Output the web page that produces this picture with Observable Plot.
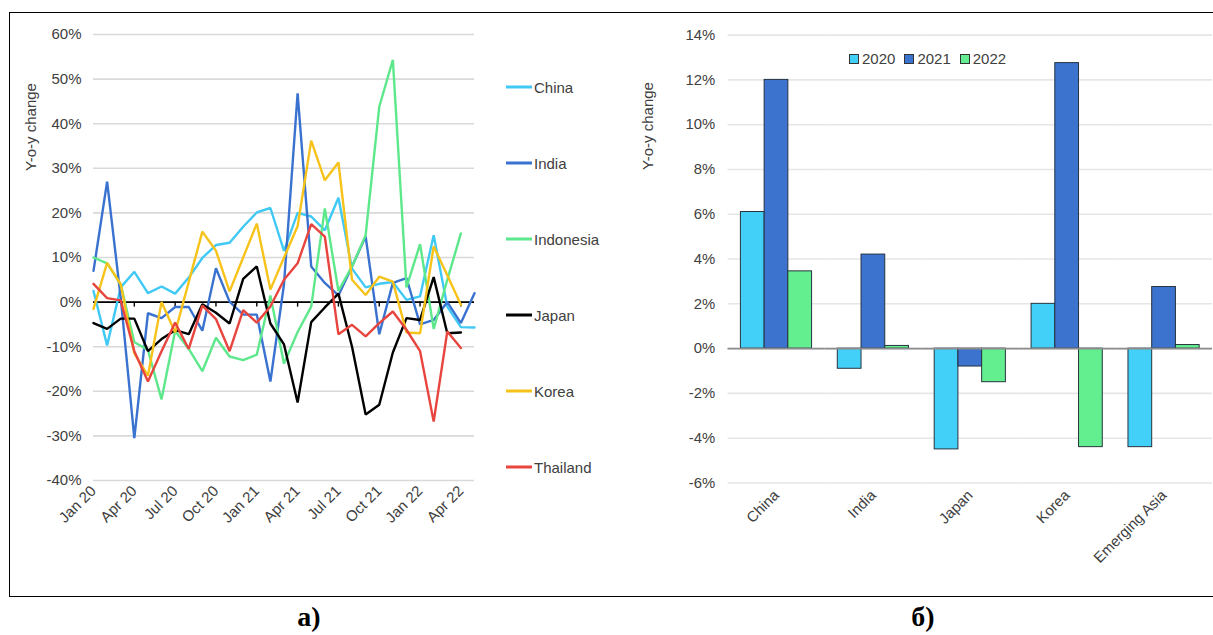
<!DOCTYPE html>
<html><head><meta charset="utf-8">
<script src="https://cdn.jsdelivr.net/npm/d3@7"></script>
<script src="https://cdn.jsdelivr.net/npm/@observablehq/plot@0.6"></script>
<style>
html,body{margin:0;padding:0;background:#fff;overflow:hidden;}
#root{position:relative;width:1213px;height:635px;overflow:hidden;font-family:"Liberation Sans",Arial,sans-serif;color:#404040;background:#fff;}
.frame{position:absolute;left:9px;top:12px;width:1230px;height:585px;border:1.5px solid #000;box-sizing:border-box;}
.ytitle{position:absolute;font-size:15px;white-space:nowrap;transform:translate(-50%,-50%) rotate(-90deg);}
.panel{position:absolute;top:601px;font-family:"Liberation Serif","Times New Roman",serif;font-weight:bold;font-size:28px;color:#000;transform:translateX(-50%);}
.leg{position:absolute;font-size:15px;white-space:nowrap;transform:translateY(-50%);display:flex;align-items:center;}
.leg i{display:inline-block;width:26px;height:3px;margin-right:2px;}
.bleg{position:absolute;top:50px;font-size:15px;display:flex;align-items:center;white-space:nowrap;}
.bleg span.sq{display:inline-block;width:8px;height:8px;border:1px solid #333;margin-right:3px;}
.bleg span.t{margin-right:9px;}
.plot{position:absolute;top:0;}
</style></head><body><div id="root"></div>
<script>
// ---------- Panel a: monthly y-o-y change ----------
const months = ["Jan 20","Feb 20","Mar 20","Apr 20","May 20","Jun 20","Jul 20","Aug 20","Sep 20","Oct 20","Nov 20","Dec 20",
  "Jan 21","Feb 21","Mar 21","Apr 21","May 21","Jun 21","Jul 21","Aug 21","Sep 21","Oct 21","Nov 21","Dec 21",
  "Jan 22","Feb 22","Mar 22","Apr 22","May 22"];
const quarterLabels = ["Jan 20","Apr 20","Jul 20","Oct 20","Jan 21","Apr 21","Jul 21","Oct 21","Jan 22","Apr 22"];
const seriesNames = ["China","India","Indonesia","Japan","Korea","Thailand"];
const seriesColors = ["#41c9f5","#3a72d0","#5ee88c","#000000","#f7c31a","#e8453f"];
const china     = [2.5,-9.7,3.3,6.8,2.0,3.5,1.9,5.5,9.9,12.8,13.3,16.9,20.1,21.1,11.5,20.0,19.2,16.1,23.4,7.5,3.3,4.1,4.5,0.5,1.3,15.0,-1.0,-5.6,-5.7];
const india     = [7.0,27.0,1.0,-30.5,-2.5,-3.6,-1.1,-1.1,-6.4,7.6,0.1,-2.8,-2.8,-17.8,4.0,46.8,8.0,4.3,1.5,8.0,14.7,-7.2,4.3,5.4,-5.0,-4.0,0.0,-4.7,2.0];
const indonesia = [10.0,8.7,4.0,-9.0,-10.7,-21.8,-6.5,-10.5,-15.5,-8.0,-12.2,-13.0,-11.8,1.5,-13.8,-6.7,-1.0,21.0,2.5,8.0,15.0,43.8,54.3,3.3,13.0,-6.0,5.0,15.4];
const japan     = [-4.7,-6.0,-3.7,-3.7,-11.0,-8.3,-6.3,-7.2,-0.5,-2.4,-4.8,5.2,8.0,-4.8,-9.5,-22.5,-4.5,-1.2,1.9,-10.0,-25.2,-23.0,-11.3,-3.6,-4.0,5.6,-7.0,-6.8];
const korea     = [-1.5,8.8,4.0,-11.5,-16.5,0.0,-6.8,4.5,15.8,11.5,2.4,10.0,17.6,2.8,10.0,17.0,36.2,27.3,31.3,5.0,1.6,5.7,4.6,-6.8,-7.0,12.5,6.0,-0.6];
const thailand  = [4.1,0.9,0.4,-11.0,-17.8,-11.0,-4.6,-10.5,-0.8,-3.8,-11.0,-1.8,-4.6,-1.0,5.0,8.7,17.5,14.7,-7.2,-5.1,-7.7,-4.7,-2.1,-6.2,-11.0,-26.8,-6.6,-10.3];
const seriesValues = [china, india, indonesia, japan, korea, thailand];
const leftTicks = [-40,-30,-20,-10,0,10,20,30,40,50,60];

// ---------- Panel б: annual y-o-y change ----------
const countries = ["China","India","Japan","Korea","Emerging Asia"];
const years = ["2020","2021","2022"];
const barColors = ["#42d0f8","#3b73cf","#63ee90"];
const val2020 = [6.1,-0.9,-4.5,2.0,-4.4];
const val2021 = [12.0,4.2,-0.8,12.75,2.75];
const val2022 = [3.45,0.12,-1.5,-4.4,0.16];
const barValues = [val2020, val2021, val2022];
const rightTicks = [-6,-4,-2,0,2,4,6,8,10,12,14];

const root = document.getElementById("root");
const pct = d => d + "%";

// line data
const lineData = [];
seriesNames.forEach((name, s) => seriesValues[s].forEach((v, i) => lineData.push({series: name, i, v})));
const quarterIdx = quarterLabels.map(l => months.indexOf(l));

const left = Plot.plot({
  width: 500, height: 560,
  marginLeft: 93, marginRight: 26, marginTop: 34, marginBottom: 80,
  style: {fontFamily: '"Liberation Sans", Arial, sans-serif', fontSize: "15px", color: "#404040", background: "transparent", overflow: "visible"},
  x: {type: "linear", domain: [0, months.length - 1]},
  y: {domain: [-40, 60]},
  color: {domain: seriesNames, range: seriesColors},
  marks: [
    Plot.gridY(leftTicks, {stroke: "#d9d9d9", strokeOpacity: 1, strokeWidth: 1.6}),
    Plot.axisY(leftTicks, {tickSize: 0, tickPadding: 12, tickFormat: pct, label: null}),
    Plot.axisX(quarterIdx, {tickSize: 0, tickPadding: 8, tickRotate: -45, tickFormat: i => months[i], label: null}),
    Plot.ruleY([0], {stroke: "#000", strokeWidth: 1.6}),
    Plot.ruleX(quarterIdx.slice(1), {x: d => d, y1: 0, y2: 0, insetBottom: -5, stroke: "#000", strokeWidth: 1.4}),
    Plot.line(lineData, {x: "i", y: "v", z: "series", stroke: "series", strokeWidth: 2.4, strokeLinejoin: "miter"})
  ]
});
const lw = document.createElement("div"); lw.className = "plot"; lw.style.left = "0px"; lw.appendChild(left); root.appendChild(lw);

// bar data
const barData = [];
countries.forEach((c, ci) => years.forEach((y, yi) => barData.push({country: c, year: y, value: barValues[yi][ci]})));

const right = Plot.plot({
  width: 620, height: 600,
  marginLeft: 127, marginRight: 0, marginTop: 35, marginBottom: 112,
  style: {fontFamily: '"Liberation Sans", Arial, sans-serif', fontSize: "15px", color: "#404040", background: "transparent", overflow: "visible"},
  fx: {domain: countries, padding: 0, label: null},
  x: {domain: years, paddingInner: 0, paddingOuter: 0.5, axis: null},
  y: {domain: [-6, 14]},
  color: {domain: years, range: barColors},
  marks: [
    Plot.gridY(rightTicks, {stroke: "#e6e6e6", strokeOpacity: 1, strokeWidth: 1.6}),
    Plot.axisY(rightTicks, {tickSize: 0, tickPadding: 13, tickFormat: pct, label: null}),
    Plot.axisFx({anchor: "bottom", tickSize: 0, tickPadding: 10, tickRotate: -45, label: null}),
    Plot.barY(barData, {fx: "country", x: "year", y: "value", fill: "year", stroke: "#26313d", strokeWidth: 1}),
    Plot.ruleY([0], {stroke: "#8c8c8c", strokeWidth: 1.6})
  ]
});
const rw = document.createElement("div"); rw.className = "plot"; rw.style.left = "600px"; rw.appendChild(right); root.appendChild(rw);

// left legend
const legY = [87, 163, 239, 315, 391, 467];
seriesNames.forEach((n, s) => {
  const d = document.createElement("div"); d.className = "leg";
  d.style.left = "506px"; d.style.top = legY[s] + "px";
  d.innerHTML = `<i style="background:${seriesColors[s]}"></i>${n}`;
  root.appendChild(d);
});

// bar legend
const bl = document.createElement("div"); bl.className = "bleg"; bl.style.left = "849px";
bl.innerHTML = years.map((y, i) => `<span class="sq" style="background:${barColors[i]}"></span><span class="t">${y}</span>`).join("");
root.appendChild(bl);

// axis titles
[[30, 127], [647, 126]].forEach(([x, y]) => {
  const t = document.createElement("div"); t.className = "ytitle";
  t.style.left = x + "px"; t.style.top = y + "px"; t.textContent = "Y-o-y change";
  root.appendChild(t);
});

// frame and panel labels
const fr = document.createElement("div"); fr.className = "frame"; root.appendChild(fr);
[["а)", 309], ["б)", 923]].forEach(([s, x]) => {
  const p = document.createElement("div"); p.className = "panel"; p.style.left = x + "px"; p.textContent = s;
  root.appendChild(p);
});
</script>
</body></html>
